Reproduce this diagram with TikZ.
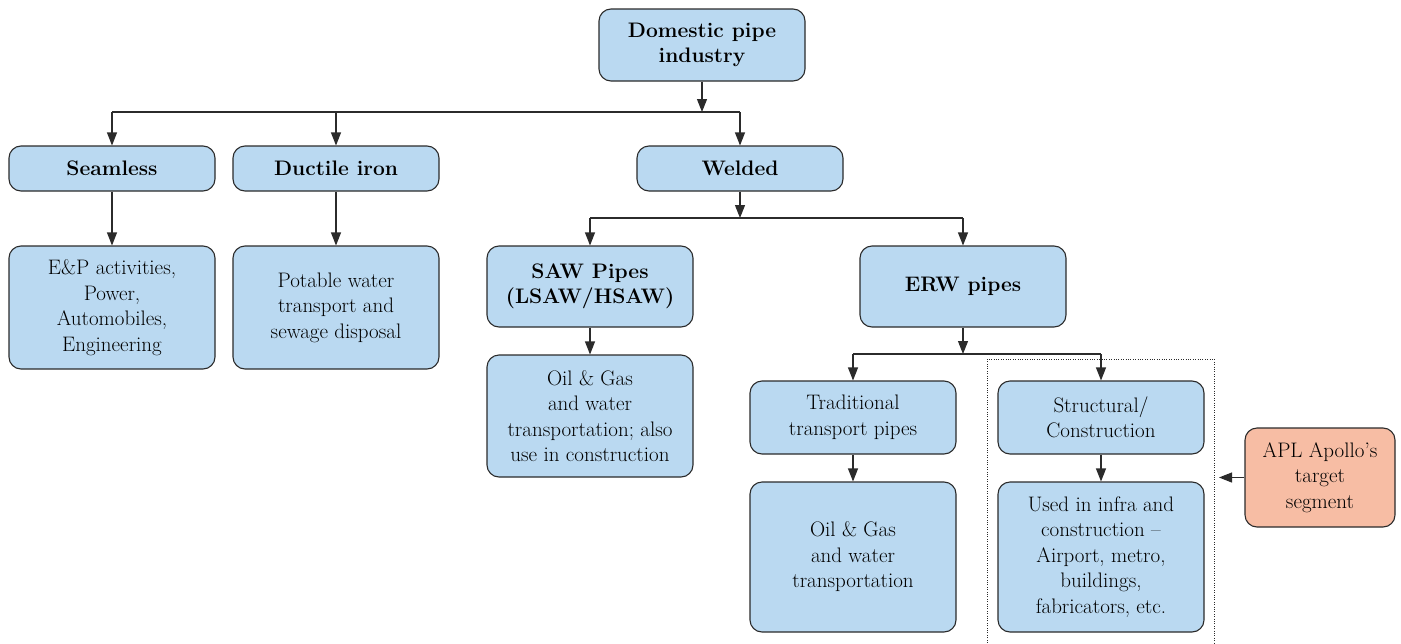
\documentclass[tikz,border=0pt]{standalone}
\usepackage{fontspec}
\usetikzlibrary{arrows.meta}
\definecolor{boxblue}{HTML}{BAD9F1}
\definecolor{boxsalmon}{HTML}{F7BDA4}
\definecolor{edgec}{HTML}{2B2B2B}
\begin{document}
\begin{tikzpicture}[x=1pt,y=-1pt,
  box/.style={draw=edgec, line width=1.1pt, fill=boxblue, rounded corners=12pt,
    align=center, inner sep=2pt, text=black,
    font=\fontsize{21}{25.5}\selectfont, minimum width=206pt},
  boldbox/.style={box, font=\fontsize{21}{25.5}\selectfont\bfseries},
  arr/.style={draw=edgec, line width=1.1pt, -{Triangle[length=13pt,width=10pt]}},
  conn/.style={draw=edgec, line width=1.1pt}
]
\useasboundingbox (0,0) rectangle (1401,643);

% level 0
\node[boldbox, minimum height=72pt] (dom) at (702,45) {Domestic pipe\\industry};
% level 1
\node[boldbox, minimum height=45pt] (seam) at (112,168.5) {Seamless};
\node[boldbox, minimum height=45pt] (duct) at (336,168.5) {Ductile iron};
\node[boldbox, minimum height=45pt] (weld) at (740,168.5) {Welded};
% level 2
\node[box, minimum height=123pt] (ep) at (112,307.5) {E\&P activities,\\Power,\\Automobiles,\\Engineering};
\node[box, minimum height=123pt] (pot) at (336,307.5) {Potable water\\transport and\\sewage disposal};
\node[boldbox, minimum height=81pt] (saw) at (590,286.5) {SAW Pipes\\(LSAW/HSAW)};
\node[boldbox, minimum height=81pt] (erw) at (963,286.5) {ERW pipes};
% level 3
\node[box, minimum height=122pt] (oilsaw) at (590,416) {Oil \& Gas\\and water\\transportation; also\\use in construction};
\node[box, minimum height=73pt] (trad) at (853,417.5) {Traditional\\transport pipes};
\node[box, minimum height=73pt] (struct) at (1101,417.5) {Structural/\\Construction};
% level 4
\node[box, minimum height=150pt] (oiltrad) at (853,557) {Oil \& Gas\\and water\\transportation};
\node[box, minimum height=150pt] (infra) at (1101,557) {Used in infra and\\construction --\\Airport, metro,\\buildings,\\fabricators, etc.};
% APL
\node[box, fill=boxsalmon, minimum width=150pt, minimum height=99pt] (apl) at (1320,477.5) {APL Apollo’s\\target\\segment};

% dotted target box
\draw[edgec, line width=0.8pt, dash pattern=on 0.8pt off 1.6pt] (987,650) -- (987,359) -- (1214,359) -- (1214,650);

% connectors
\coordinate (b1) at (702,112);
\draw[arr] (dom.south) -- (b1);
\draw[conn] (seam.north |- b1) -- (weld.north |- b1);
\draw[arr] (seam.north |- b1) -- (seam.north);
\draw[arr] (duct.north |- b1) -- (duct.north);
\draw[arr] (weld.north |- b1) -- (weld.north);

\draw[arr] (seam) -- (ep);
\draw[arr] (duct) -- (pot);

\coordinate (b2) at (740,218);
\draw[arr] (weld.south) -- (b2);
\draw[conn] (saw.north |- b2) -- (erw.north |- b2);
\draw[arr] (saw.north |- b2) -- (saw.north);
\draw[arr] (erw.north |- b2) -- (erw.north);

\draw[arr] (saw) -- (oilsaw);

\coordinate (b3) at (963,354);
\draw[arr] (erw.south) -- (b3);
\draw[conn] (trad.north |- b3) -- (struct.north |- b3);
\draw[arr] (trad.north |- b3) -- (trad.north);
\draw[arr] (struct.north |- b3) -- (struct.north);

\draw[arr] (trad) -- (oiltrad);
\draw[arr] (struct) -- (infra);

\coordinate (aplend) at (1219,477.5);
\draw[arr] (apl.west) -- (aplend);
\end{tikzpicture}
\end{document}
